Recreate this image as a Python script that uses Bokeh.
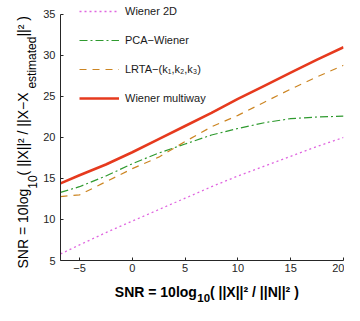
import math
from bokeh.plotting import figure
from bokeh.layouts import row, column
from bokeh.models import FixedTicker, Legend, LegendItem
from bokeh.core.properties import value
from bokeh.embed import file_html
from bokeh.resources import INLINE

# ---- data ----
snr_in = [-6.8, -5, -2.5, 0, 2.5, 5, 7.5, 10, 12.5, 15, 17.5, 20]
wiener_2d = [5.8, 6.9, 8.4, 9.8, 11.2, 12.6, 14.0, 15.3, 16.5, 17.7, 18.9, 20.0]
pca_wiener = [13.3, 14.0, 15.3, 16.8, 18.1, 19.2, 20.3, 21.1, 21.8, 22.3, 22.5, 22.6]
lrta = [12.8, 13.0, 14.6, 16.2, 17.6, 19.5, 21.3, 22.7, 24.3, 25.9, 27.4, 28.8]
wiener_multiway = [14.4, 15.4, 16.7, 18.2, 19.8, 21.4, 23.0, 24.7, 26.3, 27.9, 29.5, 31.0]
x_ticks = [-5, 0, 5, 10, 15, 20]
y_ticks = [5, 10, 15, 20, 25, 30, 35]
series_names = ["Wiener 2D", "PCA\u2212Wiener", "LRTA\u2212(k\u2081,k\u2082,k\u2083)", "Wiener multiway"]

FONT = "Liberation Sans"
AXC = "#262626"

# ---- main plot ----
p = figure(width=304, height=281, output_backend="svg", toolbar_location=None,
           x_range=(-6.8, 20), y_range=(5, 36.46),
           min_border_left=18, min_border_right=1, min_border_top=2, min_border_bottom=21)
p.outline_line_color = None
p.grid.visible = False

for ax, ticks in ((p.xaxis, x_ticks), (p.yaxis, y_ticks)):
    ax.ticker = FixedTicker(ticks=ticks)
    ax.minor_tick_line_color = None
    ax.major_tick_in = 3
    ax.major_tick_out = 0
    ax.axis_line_color = AXC
    ax.major_tick_line_color = AXC
    ax.major_label_text_color = AXC
    ax.major_label_text_font = FONT
    ax.major_label_text_font_size = "11px"
p.yaxis.bounds = (y_ticks[0], y_ticks[-1])
p.xaxis.major_label_standoff = 3
p.yaxis.major_label_standoff = 5
p.xaxis.major_label_overrides = {t: str(t).replace("-", "\u2212") for t in x_ticks}

r1 = p.line(snr_in, wiener_2d, line_color="#E066E0", line_width=1.3, line_dash="2 3")
r2 = p.line(snr_in, pca_wiener, line_color="#2F9A2F", line_width=1.2, line_dash="8 3 2 3")
r3 = p.line(snr_in, lrta, line_color="#CC8522", line_width=1.2, line_dash="7 6")
r4 = p.line(snr_in, wiener_multiway, line_color="#E63A1E", line_width=2.6)

legend = Legend(items=[LegendItem(label=n, renderers=[r]) for n, r in
                       zip(series_names, [r1, r2, r3, r4])],
                location=(19, 152), glyph_width=40, glyph_height=20, label_height=20,
                label_standoff=6, spacing=9, padding=0, margin=0,
                border_line_color=None, background_fill_alpha=0,
                label_text_font=FONT, label_text_font_size="11px", label_text_color="#1a1a1a")
p.add_layout(legend)

# ---- axis titles (with subscripts) drawn in two small text panels ----
REG = {' ': 278, '(': 333, ')': 333, '/': 278, '=': 584, '0': 556, '1': 556, 'N': 722, 'R': 722,
       'S': 667, 'X': 667, 'a': 556, 'd': 556, 'e': 556, 'g': 556, 'i': 222, 'l': 222, 'm': 833,
       'o': 556, 's': 500, 't': 278, '|': 260, '\u00b2': 333, '\u2212': 584}


def width(s, size, table):
    return sum(table.get(c, 556) for c in s) * size / 1000.0


def text_panel(w, h):
    f = figure(width=w, height=h, output_backend="svg", toolbar_location=None,
               x_range=(0, w), y_range=(0, h), x_axis_type=None, y_axis_type=None,
               min_border=0, title=None)
    f.outline_line_color = None
    f.grid.visible = False
    return f


def put(f, x, y, txt, size, bold=False, align="left", baseline="alphabetic", angle=0.0):
    f.text(x=[x], y=[y], text=[txt], angle=angle,
           text_font=value(FONT), text_font_size=f"{size}px", text_color="black",
           text_font_style="bold" if bold else "normal",
           text_align=align, text_baseline=baseline)


# vertical title: reads upward; subscripts sit to the right of the baseline
ylab = text_panel(40, 305)
pieces = [("SNR = 10log", 14, False), ("10", 12, True),
          (" ( ||X||\u00b2 / ||X\u2212X", 14, False), ("estimated", 12, True),
          ("||\u00b2 )", 14, False)]
pos, base_x, sub_dx = 37, 22.5, 9
for txt, size, is_sub in pieces:
    put(ylab, base_x + (sub_dx if is_sub else 0), pos, txt, size, angle=math.pi / 2)
    pos += width(txt, size, REG)

# horizontal title with a lowered subscript
xlab = text_panel(304, 24)
sub_x, main_y, sub_y, sub_w = 147, 14, 7.5, 13
put(xlab, sub_x - 0.5, main_y, "SNR = 10log", 14, bold=True, align="right")
put(xlab, sub_x, sub_y, "10", 11.5, bold=True)
put(xlab, sub_x + sub_w + 0.5, main_y, " ( ||X||\u00b2 / ||N||\u00b2 )", 14, bold=True)

layout = row(ylab, column(p, xlab, spacing=0), spacing=0)
open("out.html", "w").write(file_html(layout, INLINE))
